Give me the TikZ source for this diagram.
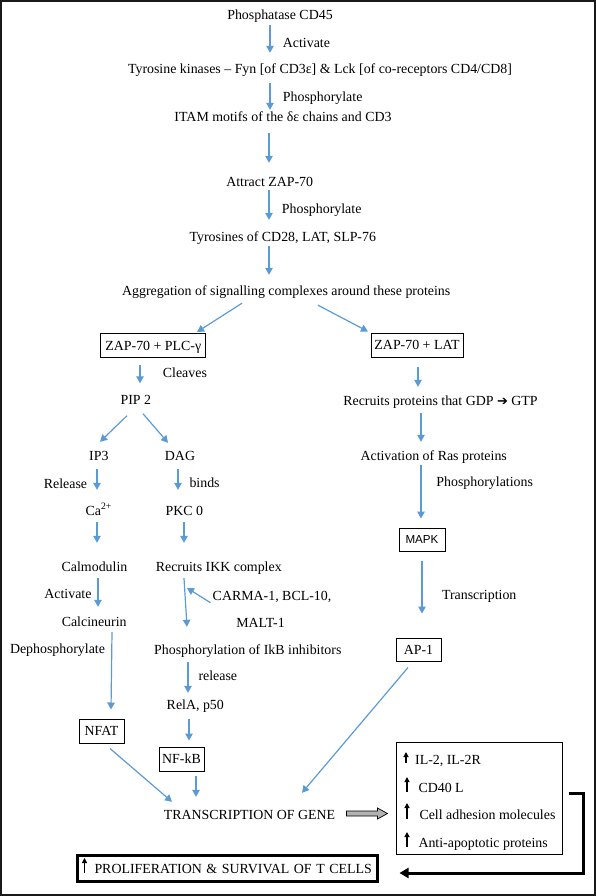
\documentclass[tikz,border=0pt]{standalone}
\usepackage{fontspec}
\setmainfont{Liberation Serif}
\newfontfamily\sansf{Liberation Sans}
\newfontfamily\djv{DejaVu Sans}
\usetikzlibrary{arrows.meta,calc}
\definecolor{arrblue}{HTML}{5B9BD5}
\begin{document}
\begin{tikzpicture}[x=1pt,y=-1pt,
  every node/.style={font=\fontsize{13.9}{16}\selectfont},
  txt/.style={inner sep=0pt, text height=9.5pt, text depth=3pt},
  boxn/.style={draw, line width=1pt, inner xsep=3pt, inner ysep=0pt, text height=9.2pt, text depth=0pt, minimum height=24pt},
  arr/.style={draw=arrblue, line width=1.2pt, -{Triangle[width=7.5pt,length=7pt]}},
  uparr/.style={line width=1.3pt, -{Triangle[width=5pt,length=5pt]}},
]
\useasboundingbox (0,0) rectangle (596,896);
\draw[line width=2pt, black!90] (1,1) rectangle (594.5,894.5);

% main column
\node[txt, anchor=base] (cd45) at (280,20) {Phosphatase CD45};
\node[txt, anchor=base west] (act1) at (282.7,47.7) {Activate};
\node[txt, anchor=base] (tyr) at (320,74) {Tyrosine kinases – Fyn [of CD3ε] \& Lck [of co-receptors CD4/CD8]};
\node[txt, anchor=base west] (phos1) at (282.7,101.7) {Phosphorylate};
\node[txt, anchor=base] (itam) at (283,121.7) {ITAM motifs of the δε chains and CD3};
\node[txt, anchor=base] (zap) at (269.7,186) {Attract ZAP-70};
\node[txt, anchor=base west] (phos2) at (281.7,213) {Phosphorylate};
\node[txt, anchor=base] (tyrs) at (282.8,241.7) {Tyrosines of CD28, LAT, SLP-76};
\node[txt, anchor=base] (aggr) at (286.2,295) {Aggregation of signalling complexes around these proteins};

% left branch
\node[boxn, minimum width=105pt] (plc) at (153.3,345.8) {ZAP-70 + PLC-γ};
\node[txt, anchor=base west] (cleaves) at (162.7,377) {Cleaves};
\node[txt, anchor=base] (pip2) at (135.8,404.5) {PIP 2};
\node[txt, anchor=base] (ip3) at (98.8,460) {IP3};
\node[txt, anchor=base] (dag) at (180,460) {DAG};
\node[txt, anchor=base east] (release) at (87.3,488) {Release};
\node[txt, anchor=base west] (binds) at (189.3,487) {binds};
\node[txt, anchor=base] (ca) at (98.8,515) {Ca\textsuperscript{2+}};
\node[txt, anchor=base] (pkc) at (184.3,515) {PKC 0};
\node[txt, anchor=base] (calm) at (94.5,571.7) {Calmodulin};
\node[txt, anchor=base] (ikk) at (218.8,571.7) {Recruits IKK complex};
\node[txt, anchor=base east] (act2) at (91.7,598) {Activate};
\node[txt, anchor=base] (carma) at (272,600) {CARMA-1, BCL-10,};
\node[txt, anchor=base] (malt) at (260.5,627) {MALT-1};
\node[txt, anchor=base] (calci) at (94.2,626) {Calcineurin};
\node[txt, anchor=base] (dephos) at (57.5,653) {Dephosphorylate};
\node[txt, anchor=base] (phosikb) at (247.8,654) {Phosphorylation of IkB inhibitors};
\node[txt, anchor=base west] (rellbl) at (198.3,680.7) {release};
\node[txt, anchor=base] (rela) at (195.3,709) {RelA, p50};
\node[boxn, minimum width=45pt] (nfat) at (101.5,731) {NFAT};
\node[boxn, minimum width=45pt] (nfkb) at (181.5,759) {NF-kB};
\node[txt, anchor=base] (gene) at (249.5,819) {TRANSCRIPTION OF GENE};

% right branch
\node[boxn, minimum width=92pt] (lat) at (417,345) {ZAP-70 + LAT};
\node[txt, anchor=base] (gdp) at (440.5,405) {Recruits proteins that GDP {\djv\fontsize{13}{13}\selectfont ➔} GTP};
\node[txt, anchor=base] (ras) at (433.7,460) {Activation of Ras proteins};
\node[txt, anchor=base] (phosns) at (484.7,486) {Phosphorylations};
\node[boxn, minimum width=46pt, minimum height=23pt, font=\sansf\fontsize{11.6}{13}\selectfont, text height=8.3pt] (mapk) at (422,539.5) {MAPK};
\node[txt, anchor=base] (transc) at (479.2,599) {Transcription};
\node[boxn, minimum width=45pt, minimum height=23pt] (ap1) at (418.5,649.5) {AP-1};

% output box
\node[draw, line width=1pt, minimum width=166pt, minimum height=112pt, inner sep=0pt] (outbox) at (479,798) {};
\node[txt, anchor=base west] (il2) at (415,764) {IL-2, IL-2R};
\node[txt, anchor=base west] (cd40) at (418.3,792) {CD40 L};
\node[txt, anchor=base west] (cell) at (419.3,819) {Cell adhesion molecules};
\node[txt, anchor=base west] (anti) at (418.3,847) {Anti-apoptotic proteins};
\draw[uparr] ($(il2.base west)+(-9,-1)$) -- ++(0,-11);
\draw[uparr] ($(cd40.base west)+(-11.3,0)$) -- ++(0,-15);
\draw[uparr] ($(cell.base west)+(-12.3,0)$) -- ++(0,-16);
\draw[uparr] ($(anti.base west)+(-11.3,0)$) -- ++(0,-15);

% proliferation box
\node[draw, line width=3pt, anchor=west, inner xsep=0pt, inner ysep=0pt, text width=300pt, align=left, text height=9.2pt, text depth=0pt, minimum height=26pt] (prolif) at (75.5,868.5) {\hspace*{17.5pt}PROLIFERATION \& SURVIVAL OF T CELLS};
\draw[uparr] ($(prolif.west)+(9,4.5)$) -- ++(0,-15);

% main column arrows
\draw[arr] ($(cd45.south -| 270,0)+(0,2)$) -- ($(tyr.north -| 270,0)+(0,-11.5)$);
\draw[arr] ($(tyr.south -| 270,0)+(0,6)$) -- ($(itam.north -| 270,0)+(0,-2.2)$);
\draw[arr] ($(itam.south -| 269,0)+(0,8.3)$) -- ($(zap.north -| 269,0)+(0,-13.5)$);
\draw[arr] ($(zap.south -| 269,0)+(0,1)$) -- ($(tyrs.north -| 269,0)+(0,-12.2)$);
\draw[arr] ($(tyrs.south -| 269,0)+(0,1.3)$) -- ($(aggr.north -| 269,0)+(0,-10.5)$);
\draw[arr] ($(aggr.south -| 242,0)+(0,5)$) -- ($(plc.north -| 197,0)+(0,-1.3)$);
\draw[arr] ($(aggr.south -| 318,0)+(0,7)$) -- ($(lat.north -| 368,0)+(0,-1)$);

% left branch arrows
\draw[arr] ($(plc.south -| 140,0)+(0,6.7)$) -- ($(pip2.north -| 140,0)+(0,-11.5)$);
\draw[arr] ($(pip2.south -| 127,0)+(0,8)$) -- ($(ip3.north -| 100,0)+(0,-8.5)$);
\draw[arr] ($(pip2.south -| 143,0)+(0,6)$) -- ($(dag.north -| 168,0)+(0,-7.5)$);
\draw[arr] ($(ip3.south -| 97,0)+(0,6)$) -- ($(ca.north -| 97,0)+(0,-15.5)$);
\draw[arr] ($(dag.south -| 178,0)+(0,6)$) -- ($(pkc.north -| 178,0)+(0,-15.5)$);
\draw[arr] ($(ca.south -| 97,0)+(0,4)$) -- ($(calm.north -| 97,0)+(0,-19.2)$);
\draw[arr] ($(pkc.south -| 184,0)+(0,4)$) -- ($(ikk.north -| 184,0)+(0,-19.2)$);
\draw[arr] ($(calm.south -| 98,0)+(0,3.3)$) -- ($(calci.north -| 98,0)+(0,-9.5)$);
\draw[arr] ($(ikk.south -| 184,0)+(0,3.3)$) -- ($(phosikb.north -| 187,0)+(0,-17.5)$);
\draw[arr] ($(carma.west)+(-2,6)$) -- ($(ikk.south -| 187,0)+(0,13)$);
\draw[arr] ($(calci.south -| 112,0)+(0,3)$) -- ($(nfat.north -| 111,0)+(0,-9)$);
\draw[arr] ($(phosikb.south -| 188,0)+(0,5)$) -- ($(rela.north -| 188,0)+(0,-6.5)$);
\draw[arr] ($(rela.south -| 189,0)+(0,7)$) -- ($(nfkb.north -| 189,0)+(0,-6)$);
\draw[arr] ($(nfkb.south -| 196,0)+(0,4)$) -- ($(gene.north -| 196,0)+(0,-12.5)$);
\draw[arr] ($(nfat.south -| 110,0)+(0,5)$) -- ($(gene.north -| 172,0)+(0,-7.5)$);

% right branch arrows
\draw[arr] ($(lat.south -| 418,0)+(0,9)$) -- ($(gdp.north -| 418,0)+(0,-8.5)$);
\draw[arr] ($(gdp.south -| 421,0)+(0,5)$) -- ($(ras.north -| 421,0)+(0,-8.5)$);
\draw[arr] ($(ras.south -| 421,0)+(0,2)$) -- ($(mapk.north -| 421,0)+(0,-9)$);
\draw[arr] ($(mapk.south -| 422,0)+(0,9)$) -- ($(ap1.north -| 422,0)+(0,-24)$);
\draw[arr] ($(ap1.south -| 408,0)+(0,6)$) -- ($(gene.north -| 302,0)+(0,-16.5)$);

% gray block arrow
\coordinate (gtip) at ($(outbox.west |- gene.base)+(-8,-5.5)$);
\draw[fill=gray!60, line width=0.7pt] (gtip) -- ++(-10,-5.5) -- ++(0,3) -- ++(-31,0) -- ++(0,5) -- ++(31,0) -- ++(0,3) -- cycle;

% thick return arrow
\draw[line width=3pt, -{Triangle[width=10pt,length=9pt]}] ($(outbox.east)+(6,-5)$) -- ++(15,0) |- ($(prolif.east)+(21,4.5)$);
\end{tikzpicture}
\end{document}
